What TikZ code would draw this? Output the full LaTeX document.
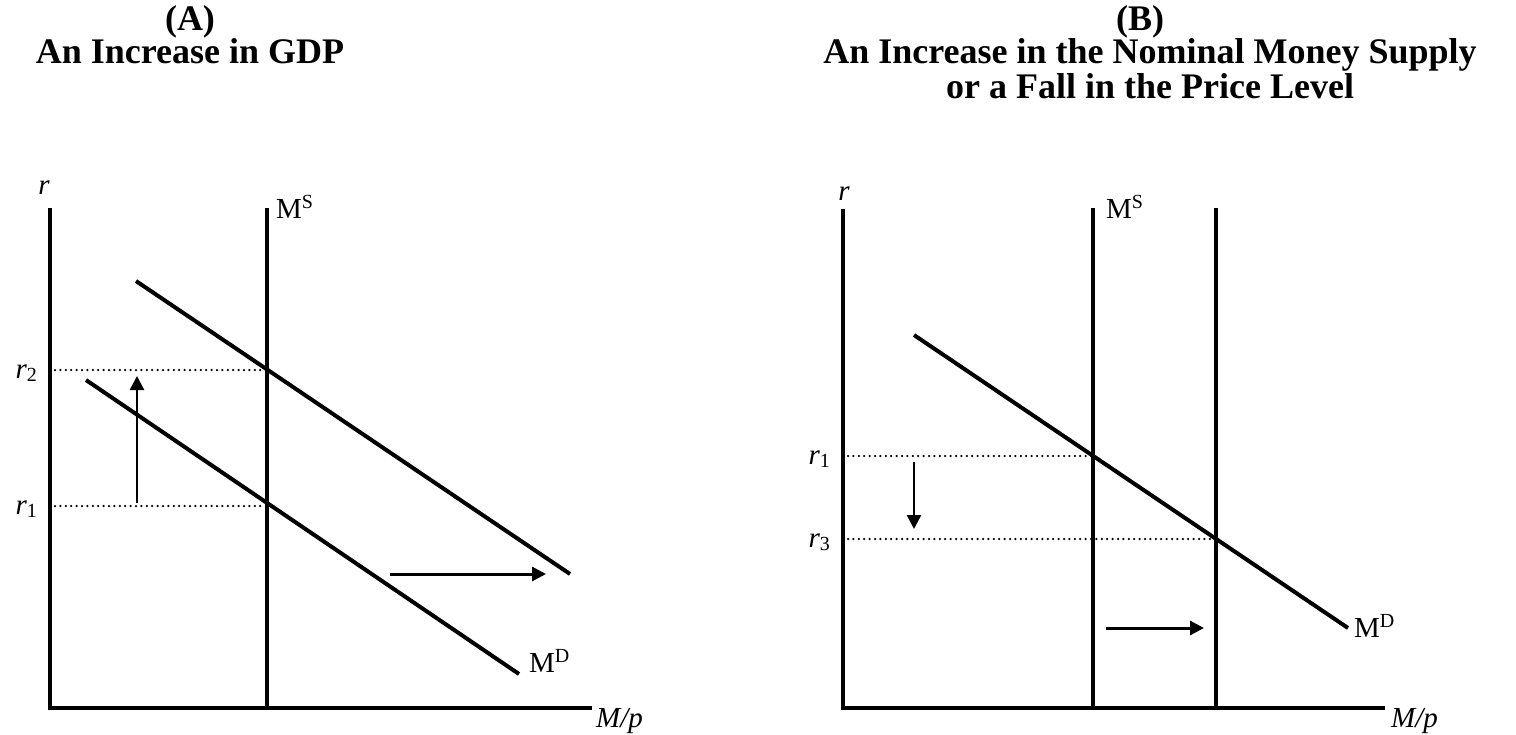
\documentclass[tikz,border=0pt]{standalone}
\usepackage{fontspec}
\setmainfont{Liberation Serif}
\usetikzlibrary{arrows.meta}
\newcommand\lsup[1]{\raisebox{0.34em}{\fontsize{20}{20}\selectfont #1}}
\newcommand\lsub[1]{\raisebox{-0.12em}{\fontsize{20}{20}\selectfont #1}}
\begin{document}
\begin{tikzpicture}[x=1pt,y=-1pt,
  axis/.style={line width=4pt},
  curve/.style={line width=4pt},
  guide/.style={line width=2.5pt, dash pattern=on 0pt off 5.4pt, line cap=round},
  shiftarrow/.style={line width=3pt, -{Triangle[length=14pt,width=14pt]}},
  lbl/.style={font=\fontsize{29}{32}\selectfont, inner sep=0pt},
  ttl/.style={font=\fontsize{36}{40}\selectfont\bfseries, inner sep=0pt, anchor=base}]
\useasboundingbox (0,0) rectangle (1516,734);

% ---------- titles ----------
\node[ttl] (tA1) at (190,30) {(A)};
\node[ttl] (tA2) at (190,63) {An Increase in GDP};
\node[ttl] (tB1) at (1140,30) {(B)};
\node[ttl] (tB2) at (1150,63) {An Increase in the Nominal Money Supply};
\node[ttl] (tB3) at (1150,98) {or a Fall in the Price Level};

% ---------- panel A ----------
\coordinate (Ay) at (50,208);
\coordinate (Ao) at (50,708);
\coordinate (Ax) at (592,708);
\draw[axis] (Ay) -- (Ao) -- (Ax);
\coordinate (AStop) at (267,208);
\coordinate (ASbot) at (267,708);
\draw[axis] (AStop) -- (ASbot);
\coordinate (AD2a) at (136,281);
\coordinate (AD2b) at (570,574);
\draw[curve] (AD2a) -- (AD2b);
\coordinate (AD1a) at (86,380);
\coordinate (AD1b) at (519,674);
\draw[curve] (AD1a) -- (AD1b);
\coordinate (Ar2a) at (55,370);
\coordinate (Ar2b) at (265,370);
\coordinate (Ar1a) at (55,506);
\coordinate (Ar1b) at (265,506);
\draw[guide] (Ar2a) -- (Ar2b);
\draw[guide] (Ar1a) -- (Ar1b);
\coordinate (AupS) at (137,503);
\coordinate (AupE) at (137,376);
\draw[shiftarrow, line width=2.5pt] (AupS) -- (AupE);
\coordinate (ArtS) at (390,574);
\coordinate (ArtE) at (546,574);
\draw[shiftarrow] (ArtS) -- (ArtE);

\node[lbl, anchor=base] (Ar) at (44,194) {\itshape r};
\node[lbl, anchor=base west] (AMS) at (276,218) {M\lsup{S}};
\node[lbl, anchor=base west] (AMD) at (529,672) {M\lsup{D}};
\node[lbl, anchor=base west] (AMp) at (596,727) {\itshape M/p};
\node[lbl, anchor=base east] (Ar2) at (37,378) {{\itshape r}\lsub{2}};
\node[lbl, anchor=base east] (Ar1) at (37,514) {{\itshape r}\lsub{1}};

% ---------- panel B ----------
\coordinate (By) at (843,209);
\coordinate (Bo) at (843,708);
\coordinate (Bx) at (1385,708);
\draw[axis] (By) -- (Bo) -- (Bx);
\coordinate (BS1top) at (1093,208);
\coordinate (BS1bot) at (1093,708);
\draw[axis] (BS1top) -- (BS1bot);
\coordinate (BS2top) at (1216,208);
\coordinate (BS2bot) at (1216,708);
\draw[axis] (BS2top) -- (BS2bot);
\coordinate (BDa) at (914,335);
\coordinate (BDb) at (1348,628);
\draw[curve] (BDa) -- (BDb);
\coordinate (Br1a) at (848,456);
\coordinate (Br1b) at (1091,456);
\coordinate (Br3a) at (848,539);
\coordinate (Br3b) at (1214,539);
\draw[guide] (Br1a) -- (Br1b);
\draw[guide] (Br3a) -- (Br3b);
\coordinate (BdnS) at (914,462);
\coordinate (BdnE) at (914,529);
\draw[shiftarrow, line width=2.5pt] (BdnS) -- (BdnE);
\coordinate (BrtS) at (1106,628);
\coordinate (BrtE) at (1204,628);
\draw[shiftarrow] (BrtS) -- (BrtE);

\node[lbl, anchor=base] (Br) at (844,200) {\itshape r};
\node[lbl, anchor=base west] (BMS) at (1106,218) {M\lsup{S}};
\node[lbl, anchor=base west] (BMD) at (1354,637) {M\lsup{D}};
\node[lbl, anchor=base west] (BMp) at (1391,727) {\itshape M/p};
\node[lbl, anchor=base east] (Br1) at (830,464) {{\itshape r}\lsub{1}};
\node[lbl, anchor=base east] (Br3) at (830,547) {{\itshape r}\lsub{3}};
\end{tikzpicture}
\end{document}
